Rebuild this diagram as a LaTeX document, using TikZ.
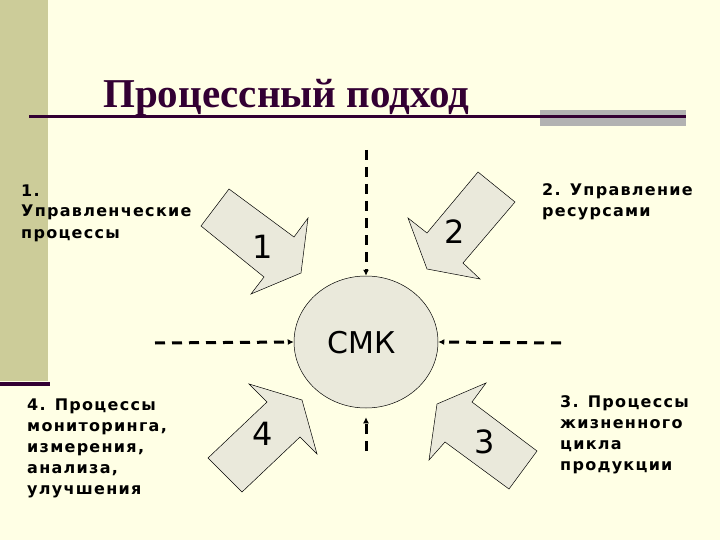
\documentclass[tikz,border=0pt]{standalone}
\usepackage{fontspec}
\usetikzlibrary{arrows.meta,shapes.geometric}
\newfontfamily\titlefont{Liberation Serif}
\newfontfamily\lblfont[LetterSpace=8,BoldFont={DejaVu Sans Bold}]{DejaVu Sans}
\newfontfamily\numfont{DejaVu Sans}
\definecolor{bgc}{HTML}{FFFFE5}
\definecolor{barc}{HTML}{CCCC99}
\definecolor{darkp}{HTML}{330033}
\definecolor{grayr}{HTML}{B2B2B2}
\definecolor{shapef}{HTML}{EAE9DB}
\tikzset{
  blockarrow/.style={draw=black, line width=0.5pt, fill=shapef, line join=miter},
  numlbl/.style={font=\numfont\fontsize{32}{36}\selectfont, inner sep=0pt},
  desc/.style={font=\lblfont\bfseries\fontsize{16}{21}\selectfont, align=left, anchor=base west, inner sep=0pt},
  dashline/.style={line width=3pt, dash pattern=on 10pt off 7pt, -{Latex[length=6pt,width=6pt]}}
}
\begin{document}
\begin{tikzpicture}[x=1pt,y=-1pt]
\useasboundingbox (0,0) rectangle (720,540);
\fill[bgc] (0,0) rectangle (720,540);
% left bar
\fill[barc] (0,0) rectangle (48,381);
\fill[darkp] (0,382) rectangle (50,386);
% title
\node[anchor=base west, inner sep=0pt, text=darkp, font=\titlefont\bfseries\fontsize{41}{45}\selectfont] (title) at (103,108) {Процессный подход};
\fill[grayr] (540,110) rectangle (686,126);
\draw[darkp, line width=3pt] (29,117) -- (686,117);
% centre
\node[ellipse, draw=black, line width=0.5pt, fill=shapef, minimum width=144pt, minimum height=132pt, inner sep=0pt] (smk) at (366,342) {};
\node[font=\numfont\fontsize{30}{34}\selectfont, inner sep=0pt] (smktxt) at (362,343) {СМК};
% dashed arrows
\coordinate (dtop) at (366,150);
\coordinate (dbot) at (366,451);
\coordinate (dleft) at (155,343);
\coordinate (dright) at (561,343);
\draw[dashline] (dtop) -- (smk.north);
\draw[dashline, shorten >=9pt] (dbot) -- (smk.south);
\draw[dashline] (dleft) -- (smk.west);
\draw[dashline] (dright) -- (smk.east);
% block arrows
\draw[blockarrow] (229,189) -- (294,237) -- (308,218) -- (301,273) -- (251,294) -- (264,277) -- (201,226) -- cycle;
\draw[blockarrow] (478,172) -- (515,202) -- (463,263) -- (480,279) -- (427,269) -- (408,218) -- (427,233) -- cycle;
\draw[blockarrow] (437,404) -- (486,383) -- (472,402) -- (537,451) -- (509,489) -- (445,442) -- (429,460) -- cycle;
\draw[blockarrow] (302,400) -- (249,384) -- (267,402) -- (208,458) -- (242,492) -- (300,437) -- (317,454) -- cycle;
\node[numlbl] (n1) at (263,247) {1};
\node[numlbl] (n2) at (455,232) {2};
\node[numlbl] (n3) at (485,442) {3};
\node[numlbl] (n4) at (263,434) {4};
% descriptions (anchor = baseline of last line)
\node[desc] (d1) at (21,238) {1.\\Управленческие\\процессы};
\node[desc] (d2) at (542,217) {2. Управление\\ресурсами};
\node[desc] (d3) at (560,470) {3. Процессы\\жизненного\\цикла\\продукции};
\node[desc] (d4) at (27,494) {4. Процессы\\мониторинга,\\измерения,\\анализа,\\улучшения};
\end{tikzpicture}
\end{document}
